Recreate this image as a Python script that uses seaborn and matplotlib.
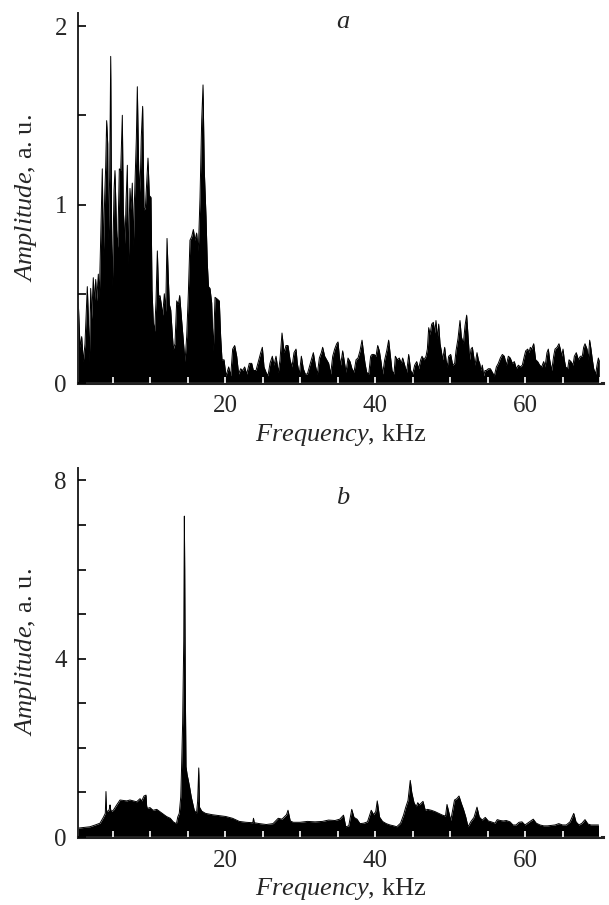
import numpy as np
import pandas as pd
import matplotlib
matplotlib.use("Agg")
import matplotlib.pyplot as plt
import seaborn as sns
from matplotlib.ticker import MultipleLocator, FixedLocator

# ---------------- data: panel a ----------------
a_f1 = [0.44,0.67,0.89,1.11,1.33,1.64,1.78,1.91,2.09,2.22,2.44,2.58,2.76,2.89,3.11,3.24,3.42,3.64,3.78,3.96,
        4.09,4.22,4.36,4.44,4.62,4.76,4.89,4.98,5.2,5.33,5.56,5.69,5.91,6.09,6.31,6.44,6.67,6.8,6.98,7.11,
        7.33,7.47,7.64,7.78,7.91,8.04,8.18,8.31,8.49,8.67,8.84,9.02,9.2,9.38,9.56,9.73,9.91]
a_v1 = [0.45,0.20,0.26,0.12,0.22,0.54,0.37,0.12,0.53,0.36,0.59,0.45,0.58,0.46,0.61,0.48,0.80,1.20,0.71,1.05,
        1.21,1.47,1.34,0.80,1.15,1.83,0.78,0.54,1.08,1.19,0.82,0.76,1.20,1.19,1.50,0.97,0.78,1.01,1.22,0.67,
        1.09,0.97,1.12,0.77,1.00,1.18,1.37,1.66,1.20,1.07,1.38,1.55,0.97,0.98,1.12,1.26,1.05]
a_f2 = [10.13,10.27,10.44,10.62,10.8,10.98,11.16,11.33,11.51,11.69,11.91,12.09,12.27,12.44,12.58,12.76,12.93,
        13.11,13.33,13.56,13.78,13.96,14.22,14.44,14.67,14.89,15.11,15.33,15.56,15.78,16.0,16.22,16.44,16.67,
        16.89,17.07,17.24,17.47,17.64,17.8,18.0,18.22,18.44,18.67,18.98,19.24,19.42,19.6,19.87]
a_v2 = [1.04,0.52,0.34,0.29,0.46,0.74,0.48,0.49,0.44,0.38,0.50,0.40,0.81,0.59,0.44,0.41,0.30,
        0.19,0.22,0.46,0.44,0.49,0.35,0.24,0.12,0.26,0.50,0.80,0.82,0.86,0.80,0.84,0.74,1.04,
        1.47,1.67,1.19,0.93,0.67,0.54,0.53,0.45,0.18,0.48,0.47,0.46,0.26,0.13,0.13]
a_f3 = [20.13,20.49,20.76,21.02,21.29,21.56,21.82,22.09,22.36,22.62,
        22.89,23.24,23.56,23.78,24.13,24.44,24.76,24.98,25.2,25.47,
        25.73,26.0,26.31,26.53,26.8,27.11,27.33,27.6,27.87,28.13,
        28.4,28.67,28.93,29.2,29.47,29.64,29.91,30.18,30.44,30.71,
        30.98,31.24,31.51,31.78,32.04,32.31,32.58,32.84,33.02,33.29,
        33.56,33.82,34.09,34.36,34.62,34.89,35.07,35.24,35.42,35.69,
        35.87,36.13,36.4,36.67,36.93,37.2,37.47,37.73,38.0,38.27,
        38.44,38.67,38.89,39.16,39.42,39.6,39.87,40.13,40.36,40.58,
        40.8,41.02,41.29,41.56,41.82,42.0,42.27,42.53,42.71,42.98,
        43.24,43.51,43.69,43.96,44.22,44.49,44.76]
a_v3 = [0.04,0.09,0.04,0.19,0.21,0.15,0.05,0.08,0.07,0.09,
        0.05,0.11,0.11,0.07,0.07,0.12,0.17,0.20,0.09,0.06,
        0.04,0.11,0.15,0.10,0.15,0.06,0.13,0.28,0.17,0.21,
        0.21,0.13,0.09,0.17,0.19,0.11,0.05,0.15,0.08,0.05,
        0.05,0.09,0.13,0.17,0.10,0.05,0.14,0.17,0.20,0.15,
        0.13,0.11,0.05,0.15,0.19,0.22,0.23,0.15,0.10,0.18,
        0.13,0.06,0.14,0.12,0.08,0.06,0.13,0.14,0.18,0.24,
        0.18,0.11,0.06,0.05,0.15,0.16,0.16,0.15,0.21,0.18,
        0.12,0.05,0.13,0.18,0.24,0.17,0.07,0.05,0.15,0.13,
        0.14,0.11,0.14,0.10,0.06,0.16,0.07]
a_f4 = [45.02,45.29,45.56,45.82,46.09,46.27,46.53,46.8,46.98,47.16,
        47.33,47.56,47.78,47.96,48.13,48.31,48.49,48.67,48.84,49.02,
        49.29,49.47,49.64,49.82,50.09,50.36,50.62,50.8,51.07,51.33,
        51.51,51.78,52.0,52.22,52.44,52.62,52.8,52.98,53.16,53.33,
        53.6,53.78,53.96,54.13,54.31,54.49,54.67,54.84,55.11,55.38,
        55.64,55.91,56.18,56.44,56.71,56.98,57.24,57.51,57.78,58.04,
        58.31,58.58,58.84,59.11,59.38,59.64,59.91,60.09,60.36,60.53,
        60.71,60.89,61.16,61.42,61.69,61.96,62.22,62.49,62.67,62.93,
        63.11,63.29,63.56,63.82,64.0,64.27,64.53,64.71,64.89,65.07,
        65.24,65.42,65.69,65.87,66.13,66.4,66.58,66.84,67.11,67.38,
        67.64,67.82,68.0,68.27,68.44,68.62,68.8,68.98,69.16,69.42,
        69.6,69.78,69.91]
a_v4 = [0.05,0.10,0.12,0.08,0.13,0.15,0.13,0.15,0.19,0.31,
        0.27,0.33,0.34,0.28,0.35,0.25,0.33,0.22,0.18,0.13,
        0.20,0.13,0.09,0.15,0.16,0.10,0.11,0.18,0.25,0.35,
        0.26,0.22,0.32,0.38,0.24,0.13,0.19,0.20,0.15,0.10,
        0.17,0.13,0.11,0.07,0.10,0.04,0.07,0.07,0.08,0.08,
        0.06,0.04,0.09,0.11,0.14,0.16,0.15,0.10,0.15,0.14,
        0.11,0.12,0.08,0.10,0.09,0.10,0.15,0.18,0.19,0.17,
        0.20,0.19,0.22,0.13,0.12,0.10,0.09,0.12,0.09,0.17,
        0.19,0.13,0.07,0.15,0.19,0.20,0.22,0.19,0.15,0.19,
        0.13,0.09,0.08,0.13,0.12,0.10,0.15,0.17,0.13,0.15,
        0.15,0.20,0.22,0.19,0.13,0.24,0.19,0.13,0.08,0.05,
        0.10,0.14,0.12]

# ---------------- data: panel b ----------------
b_f1 = [0.44,1.0,2.0,2.7,3.33,3.78,4.04,4.13,4.2,4.27,4.53,4.62,4.67,4.75,4.84,5.11,5.56,6.0,6.44,6.89,
        7.33,7.78,8.22,8.67,8.89,9.2,9.47,9.55,9.64,10.0,10.4,10.9,11.3,11.8,12.2,12.7,13.1,13.5]
b_v1 = [0.2,0.21,0.23,0.27,0.31,0.44,0.53,1.02,0.6,0.57,0.6,0.66,0.72,0.62,0.57,0.6,0.72,0.83,0.82,0.81,
        0.83,0.81,0.79,0.86,0.81,0.92,0.94,0.7,0.64,0.66,0.6,0.62,0.57,0.51,0.46,0.42,0.34,0.3]
b_f2 = [13.55,13.7,13.9,14.1,14.2,14.35,14.5,14.58,14.63,14.7,14.8,14.95,15.1,15.3,15.5,15.7,15.9,16.2,
        16.35,16.5,16.6,16.9,17.4,18.3,19.2]
b_v2 = [0.32,0.45,0.53,0.9,1.5,2.55,4.4,7.2,6.0,3.5,1.58,1.4,1.28,1.1,0.9,0.75,0.6,0.53,
        0.8,1.55,0.67,0.58,0.53,0.5,0.48]
b_f3 = [20.1,21.0,21.9,22.8,23.7,23.8,23.9,24.6,25.5,26.4,27.1,27.6,28.2,28.4,28.7,29.1,30.0,31.0,32.0,33.0,
        33.8,34.67,35.3,35.8,36.1,36.5,36.9,37.2,37.6,38.0,38.5,39.0,39.5,39.8,40.1,40.3,40.6,41.0,41.5,42.0,
        42.5,42.9,43.4,43.8,44.1,44.4,44.7,44.9,45.2,45.5,45.7,45.9,46.1,46.4,46.7,47.0,47.5,48.0,48.5,49.0,
        49.4,49.6,50.1,50.3,50.6,50.9,51.2,51.5,51.8,52.1,52.4,52.8,53.2,53.6,53.9,54.3,54.7,55.1,55.5,56.0,
        56.3,56.7,57.1,57.5,58.0,58.4,58.8,59.2,59.6,60.0,60.5,61.1,61.5,62.0,62.5,63.0,63.5,64.0,64.5,65.0,
        65.5,66.0,66.5,66.8,67.2,67.6,68.0,68.4,68.8,69.3,69.8]
b_v3 = [0.46,0.42,0.35,0.33,0.32,0.42,0.32,0.30,0.28,0.30,0.42,0.40,0.50,0.60,0.36,0.33,0.33,0.35,0.34,0.35,
        0.38,0.37,0.40,0.49,0.23,0.25,0.62,0.44,0.40,0.30,0.31,0.34,0.60,0.50,0.57,0.81,0.45,0.35,0.30,0.27,
        0.25,0.23,0.31,0.49,0.67,0.82,1.27,1.00,0.77,0.68,0.77,0.72,0.75,0.80,0.60,0.62,0.60,0.57,0.53,0.49,
        0.47,0.73,0.37,0.55,0.83,0.86,0.92,0.76,0.62,0.45,0.23,0.35,0.44,0.67,0.45,0.38,0.44,0.36,0.34,0.31,
        0.39,0.37,0.36,0.37,0.34,0.27,0.27,0.33,0.34,0.27,0.33,0.40,0.31,0.27,0.25,0.25,0.26,0.27,0.30,0.27,
        0.27,0.34,0.53,0.34,0.27,0.31,0.39,0.29,0.27,0.27,0.27]

x_ticks_major = [20, 40, 60]
x_tick_labels = ["20", "40", "60"]
a_y_ticks = [0, 1, 2]
b_y_ticks = [0, 4, 8]

df_a = pd.DataFrame({"freq": a_f1 + a_f2 + a_f3 + a_f4, "amp": a_v1 + a_v2 + a_v3 + a_v4})
df_b = pd.DataFrame({"freq": b_f1 + b_f2 + b_f3, "amp": b_v1 + b_v2 + b_v3})

# ---------------- style ----------------
sns.set_style("ticks")
plt.rcParams["font.family"] = ["Liberation Serif", "DejaVu Serif"]
plt.rcParams["mathtext.fontset"] = "custom"
plt.rcParams["mathtext.rm"] = "Liberation Serif"
plt.rcParams["mathtext.it"] = "Liberation Serif:italic"

W, H = 609, 905
fig = plt.figure(figsize=(W / 100, H / 100), dpi=100)

def px_axes(left, top, right, bottom):
    return fig.add_axes([left / W, 1 - bottom / H, (right - left) / W, (bottom - top) / H])

ax_a = px_axes(78, 13, 603, 383)
ax_b = px_axes(78, 468, 603, 837)

FS = 18
LFS = 19

def style(ax, df, ylim, yticks, yminor, letter):
    ax.fill_between(df["freq"], 0, df["amp"], color="black", lw=0, zorder=1)
    sns.lineplot(data=df, x="freq", y="amp", ax=ax, color="black", lw=0.7, sort=False, zorder=2)
    ax.set_xlim(0.4, 70.4)
    ax.set_ylim(*ylim)
    for s in ["top", "right"]:
        ax.spines[s].set_visible(False)
    ax.spines["left"].set_linewidth(1.4)
    ax.spines["bottom"].set_linewidth(2.2)
    ax.spines["bottom"].set_color("#222222")
    ax.set_axisbelow(False)
    ax.xaxis.set_major_locator(FixedLocator(x_ticks_major))
    ax.set_xticklabels(x_tick_labels)
    ax.xaxis.set_minor_locator(MultipleLocator(5))
    ax.tick_params(axis="x", which="both", direction="in", color="white", length=4.5, width=1.2,
                   labelsize=FS, pad=9)
    ax.yaxis.set_major_locator(FixedLocator(yticks))
    ax.yaxis.set_minor_locator(MultipleLocator(yminor))
    ax.tick_params(axis="y", which="both", direction="in", color="black", length=5.5, width=1.2,
                   labelsize=FS, pad=8)
    ax.set_yticklabels([str(t) for t in yticks])
    ax.set_xlabel(r"$\mathit{Frequency}$, kHz", fontsize=LFS, labelpad=3)
    ax.set_ylabel(r"$\mathit{Amplitude}$, a. u.", fontsize=LFS)
    ax.yaxis.set_label_coords(-0.075, 0.5)
    ax.text(0.505, 0.975 if letter == "a" else 0.92, letter, transform=ax.transAxes, fontsize=LFS,
            style="italic", ha="center", va="center")

style(ax_a, df_a, (0, 2.073), a_y_ticks, 0.5, "a")
style(ax_b, df_b, (0, 8.28), b_y_ticks, 1, "b")

fig.savefig("out.png", dpi=100)
